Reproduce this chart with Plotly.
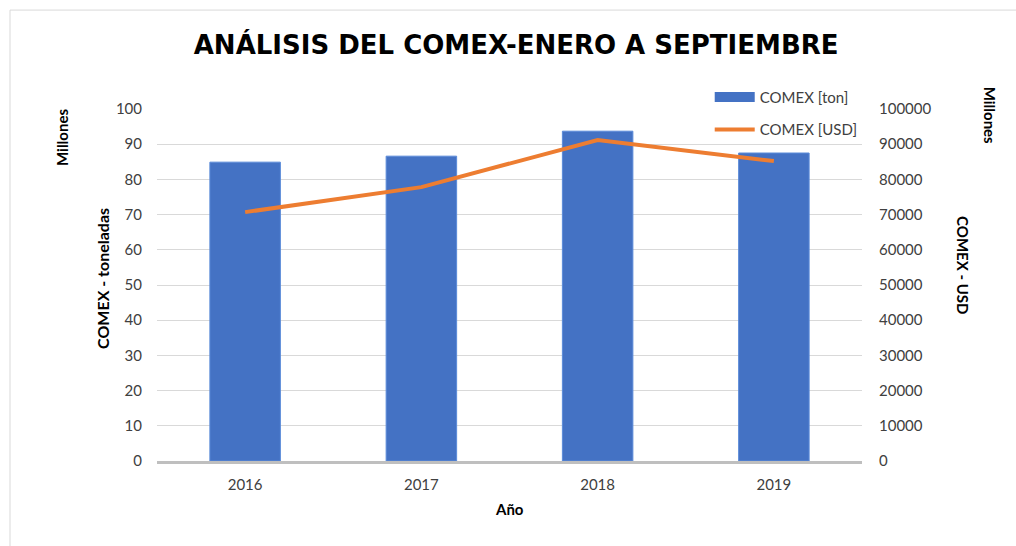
import plotly.graph_objects as go

years = ["2016", "2017", "2018", "2019"]
comex_ton = [84.9, 86.6, 93.7, 87.5]          # millones de toneladas
comex_usd = [70700, 77800, 91200, 85200]      # millones USD

FONT = "Lato"
BLUE = "#4472C4"
ORANGE = "#ED7D31"

fig = go.Figure()
fig.add_trace(go.Bar(x=years, y=comex_ton, name="COMEX [ton]", showlegend=False,
                     marker=dict(color=BLUE, line=dict(color="#5B8BD9", width=1)),
                     width=0.4, yaxis="y"))
fig.add_trace(go.Scatter(x=years, y=comex_usd, name="COMEX [USD]", mode="lines",
                         showlegend=False,
                         line=dict(color=ORANGE, width=4), yaxis="y2"))
# legend entries (wide rectangle icon for bars, line for USD)
fig.add_trace(go.Scatter(x=[None], y=[None], name="COMEX [ton]", mode="lines",
                         legendgroup="a", line=dict(color=BLUE, width=10)))
fig.add_trace(go.Scatter(x=[None], y=[None], name="COMEX [USD]", mode="lines",
                         legendgroup="b", line=dict(color=ORANGE, width=4), yaxis="y2"))

fig.update_layout(
    width=1016, height=546,
    margin=dict(l=157, r=154, t=109, b=85, autoexpand=False),
    paper_bgcolor="white", plot_bgcolor="white",
    font=dict(family=FONT, size=15, color="#404040"),
    title=dict(text="<b>ANÁLISIS DEL COMEX-ENERO A SEPTIEMBRE</b>",
               x=0.508, xanchor="center", y=0.918, yanchor="middle",
               font=dict(family="DejaVu Sans", size=26, color="#000000")),
    xaxis=dict(showgrid=False, showline=True, linecolor="#BFBFBF", linewidth=3,
               ticks="", tickfont=dict(size=15, color="#404040"),
               ticklabelstandoff=8),
    yaxis=dict(range=[0, 100], dtick=10, showgrid=True, gridcolor="#D9D9D9",
               zeroline=False, showline=False, ticks="", ticklabelstandoff=14),
    yaxis2=dict(range=[0, 100000], dtick=10000, overlaying="y", side="right",
                tickformat="d",
                showgrid=False, zeroline=False, showline=False, ticks="",
                ticklabelstandoff=16),
    legend=dict(x=0.784, y=0.852, xref="paper", yref="container",
                xanchor="left", yanchor="top",
                bgcolor="rgba(255,255,255,0)", font=dict(size=15, color="#404040"),
                tracegroupgap=10, itemwidth=40),
    showlegend=True,
)

ann = [
    dict(text="<b>Año</b>", x=0.5, y=-0.136),
    dict(text="<b>COMEX - toneladas</b>", x=-0.0766, y=0.52, textangle=-90),
    dict(text="<b>Millones</b>", x=-0.135, y=0.92, textangle=-90),
    dict(text="<b>COMEX - USD</b>", x=1.143, y=0.557, textangle=90),
    dict(text="<b>Millones</b>", x=1.182, y=0.983, textangle=90),
]
for a in ann:
    a.update(xref="paper", yref="paper", xanchor="center", yanchor="middle",
             showarrow=False, font=dict(size=15, color="#000000"))
ann[1]["font"] = dict(size=16, color="#000000")
fig.update_layout(annotations=ann)

# chart frame (top and left edges)
fig.add_shape(type="line", xref="paper", yref="paper", x0=-0.2085, x1=1.3,
              y0=1.281, y1=1.281, line=dict(color="#D9D9D9", width=1))
fig.add_shape(type="line", xref="paper", yref="paper", x0=-0.2085, x1=-0.2085,
              y0=1.281, y1=-0.3, line=dict(color="#D9D9D9", width=1))

fig.write_html("out.html", config={"displayModeBar": False},
               post_script="document.body.style.margin='0';document.body.style.overflow='hidden';")
